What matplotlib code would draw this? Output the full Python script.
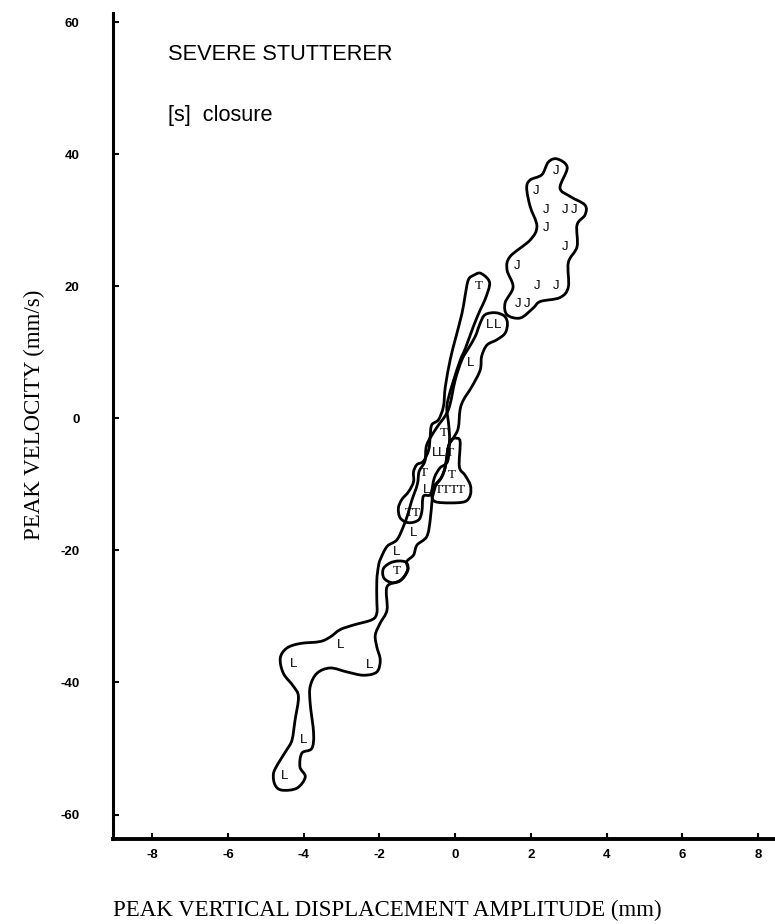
import numpy as np
import matplotlib
matplotlib.use('Agg')
import matplotlib.pyplot as plt
from matplotlib.path import Path
from matplotlib.patches import PathPatch

plt.rcParams['axes.unicode_minus'] = False

# letter positions (displacement mm, velocity mm/s)
j_x = [2.67, 2.14, 2.40, 2.91, 3.14, 2.40, 2.91, 1.63, 2.16, 2.67, 1.67, 1.89]
j_y = [37.5, 34.5, 31.6, 31.6, 31.6, 28.9, 26.0, 23.0, 20.1, 20.1, 17.3, 17.3]

l_x = [0.92, 1.12, 0.40, -0.53, -0.35, -0.75, -1.10, -1.54, -3.04, -4.27, -2.27, -4.01, -4.52]
l_y = [14.2, 14.2, 8.4, -5.3, -5.3, -10.8, -17.4, -20.2, -34.3, -37.2, -37.4, -48.7, -54.2]

t_x = [0.63, -0.29, -0.13, -0.84, -0.09, -0.44, -0.26, -0.04, 0.15, -1.22, -1.03, -1.54]
t_y = [20.1, -2.2, -5.3, -8.3, -8.6, -10.8, -10.8, -10.8, -10.8, -14.4, -14.4, -23.1]

# hand drawn outlines
j_outline_x = [2.69, 2.96, 2.77, 3.04, 3.43, 3.43, 3.22, 3.22, 2.99, 2.99, 2.77, 2.25, 2.06,
               1.72, 1.37, 1.32, 1.53, 1.37, 1.45, 1.98, 2.16, 1.98, 1.89, 1.98, 2.29, 2.46]
j_outline_y = [39.3, 38.0, 34.9, 33.6, 32.3, 30.8, 29.3, 26.0, 23.6, 19.9, 18.3, 17.7, 16.7,
               15.2, 15.7, 17.5, 19.9, 22.5, 24.5, 27.0, 29.1, 32.1, 34.9, 36.1, 36.9, 38.8]

t_outline_x = [0.50, 0.66, 0.85, 0.91, 0.79, 0.66, 0.48, 0.27, 0.14, -0.04, -0.19, -0.22, -0.17,
               -0.15, -0.20, -0.40, -0.55, -0.65, -0.84, -0.88, -0.97, -1.23, -1.45, -1.50,
               -1.41, -1.23, -1.10, -1.10, -1.01, -0.84, -0.70, -0.66, -0.62, -0.44, -0.31,
               -0.26, -0.13, 0.00, 0.18, 0.26, 0.35]
t_outline_y = [21.7, 22.0, 21.2, 20.2, 18.0, 16.4, 13.9, 10.6, 8.9, 5.8, 2.8, 1.3, -1.0,
               -3.3, -6.5, -7.5, -9.0, -11.5, -11.8, -14.1, -15.4, -15.8, -15.1, -13.6,
               -12.3, -11.1, -9.6, -8.1, -7.0, -6.5, -4.8, -2.8, -1.0, -0.2, 1.8,
               4.8, 8.9, 11.9, 15.9, 18.5, 21.0]

flask_x = [0.00, 0.13, 0.11, 0.26, 0.40, 0.40, 0.26, -0.13, -0.53, -0.62, -0.57, -0.44,
           -0.35, -0.26, -0.18, -0.09]
flask_y = [-3.0, -3.5, -7.3, -8.6, -10.1, -11.6, -12.6, -12.8, -12.6, -11.6, -10.3, -9.6,
           -8.8, -7.3, -4.3, -3.2]

l_outline_x = [0.79, 1.06, 1.30, 1.38, 1.32, 1.10, 0.84, 0.70, 0.66, 0.44, 0.22, 0.13, 0.08,
               -0.05, -0.18, -0.26, -0.35, -0.50, -0.58, -0.61, -0.66, -0.75, -1.01, -1.10,
               -1.28, -1.25, -1.45, -1.80, -1.80, -1.98, -2.11, -2.07, -1.98, -2.07, -2.42,
               -2.86, -3.30, -3.65, -3.83, -3.83, -3.74, -3.79, -4.05, -4.10, -3.96, -4.18,
               -4.58, -4.76, -4.80, -4.67, -4.45, -4.31, -4.23, -4.14, -4.27, -4.54, -4.62,
               -4.45, -4.10, -3.57, -3.30, -3.04, -2.69, -2.20, -2.07, -2.07, -2.07, -2.03,
               -1.98, -1.80, -1.54, -1.37, -1.25, -1.15, -1.00, -0.95, -0.80, -0.75, -0.50,
               -0.18, 0.00, 0.18, 0.35, 0.53, 0.66]
l_outline_y = [15.7, 16.0, 15.5, 14.4, 12.9, 11.9, 11.1, 9.4, 7.3, 4.8, 2.8, 1.3, -1.5,
               -3.0, -4.3, -7.3, -8.8, -10.0, -11.5, -12.4, -15.4, -17.9, -19.2, -20.7,
               -21.7, -23.0, -24.6, -25.5, -29.0, -31.0, -32.8, -34.6, -36.6, -38.4, -38.9,
               -38.4, -37.8, -38.6, -40.6, -43.2, -47.7, -50.0, -50.7, -52.8, -54.3, -56.0,
               -56.3, -55.5, -53.8, -52.2, -50.2, -48.7, -45.7, -42.2, -40.6, -38.6, -36.3,
               -34.8, -34.1, -33.8, -33.1, -32.0, -31.3, -30.5, -29.5, -27.5, -24.5, -22.5,
               -21.4, -19.4, -18.4, -16.4, -14.5, -12.5, -10.0, -8.0, -6.5, -4.0, -1.5,
               1.3, 5.8, 8.9, 10.6, 12.4, 14.4]

t_oval_x = [-1.30, -1.25, -1.40, -1.65, -1.88, -1.90, -1.72, -1.50]
t_oval_y = [-21.8, -22.8, -24.3, -24.9, -24.2, -22.8, -21.9, -21.6]

x_ticks = [-8, -6, -4, -2, 0, 2, 4, 6, 8]
y_ticks = [-60, -40, -20, 0, 20, 40, 60]


def closed_curve(xs, ys):
    # smooth closed outline through the traced points (Catmull-Rom as bezier)
    p = np.column_stack([xs, ys])
    n = len(p)
    verts = [p[0]]
    codes = [Path.MOVETO]
    for i in range(n):
        p0, p1, p2, p3 = p[i - 1], p[i], p[(i + 1) % n], p[(i + 2) % n]
        verts += [p1 + (p2 - p0) / 6, p2 - (p3 - p1) / 6, p2]
        codes += [Path.CURVE4] * 3
    return Path(verts, codes)


fig = plt.figure(figsize=(7.75, 9.24), dpi=100)
ax = fig.add_axes([0.1458, 0.092, 0.8542, 0.894])
ax.set_xlim(-9.04, 8.45)
ax.set_ylim(-63.7, 61.4)

for xs, ys in [(j_outline_x, j_outline_y), (t_outline_x, t_outline_y), (flask_x, flask_y),
               (l_outline_x, l_outline_y), (t_oval_x, t_oval_y)]:
    ax.add_patch(PathPatch(closed_curve(xs, ys), facecolor='none', edgecolor='black',
                           linewidth=2.0, joinstyle='round'))

for x, y in zip(j_x, j_y):
    ax.text(x, y, 'J', ha='center', va='center', fontsize=9.5, family='Liberation Sans')
for x, y in zip(l_x, l_y):
    ax.text(x, y, 'L', ha='center', va='center', fontsize=9.5, family='Liberation Sans')
for x, y in zip(t_x, t_y):
    ax.text(x, y, 'T', ha='center', va='center', fontsize=9.5, family='Liberation Serif')

ax.spines['top'].set_visible(False)
ax.spines['right'].set_visible(False)
ax.spines['left'].set_linewidth(2.2)
ax.spines['bottom'].set_linewidth(2.8)

ax.set_xticks(x_ticks)
ax.set_yticks(y_ticks)
ax.tick_params(axis='both', direction='in', length=4, width=1.5, labelsize=9.5)
ax.tick_params(axis='y', pad=24)
ax.tick_params(axis='x', pad=7)
for lab in ax.get_xticklabels() + ax.get_yticklabels():
    lab.set_fontweight('bold')
    lab.set_family('Liberation Sans')

ax.text(0.083, 0.943, 'SEVERE STUTTERER', transform=ax.transAxes, fontsize=15.7,
        family='Liberation Sans', va='baseline')
ax.text(0.083, 0.869, '[s]  closure', transform=ax.transAxes, fontsize=15.7,
        family='Liberation Sans', va='baseline')

ax.set_xlabel('PEAK VERTICAL DISPLACEMENT AMPLITUDE (mm)', loc='left', fontsize=16.5,
              family='Liberation Serif')
ax.xaxis.set_label_coords(0.0, -0.0935)
ax.xaxis.label.set_va('baseline')
ax.set_ylabel('PEAK VELOCITY (mm/s)', fontsize=16.5, family='Liberation Serif')
ax.yaxis.set_label_coords(-0.118, 0.513)
ax.yaxis.label.set_va('center')

fig.savefig('out.png', dpi=100)
